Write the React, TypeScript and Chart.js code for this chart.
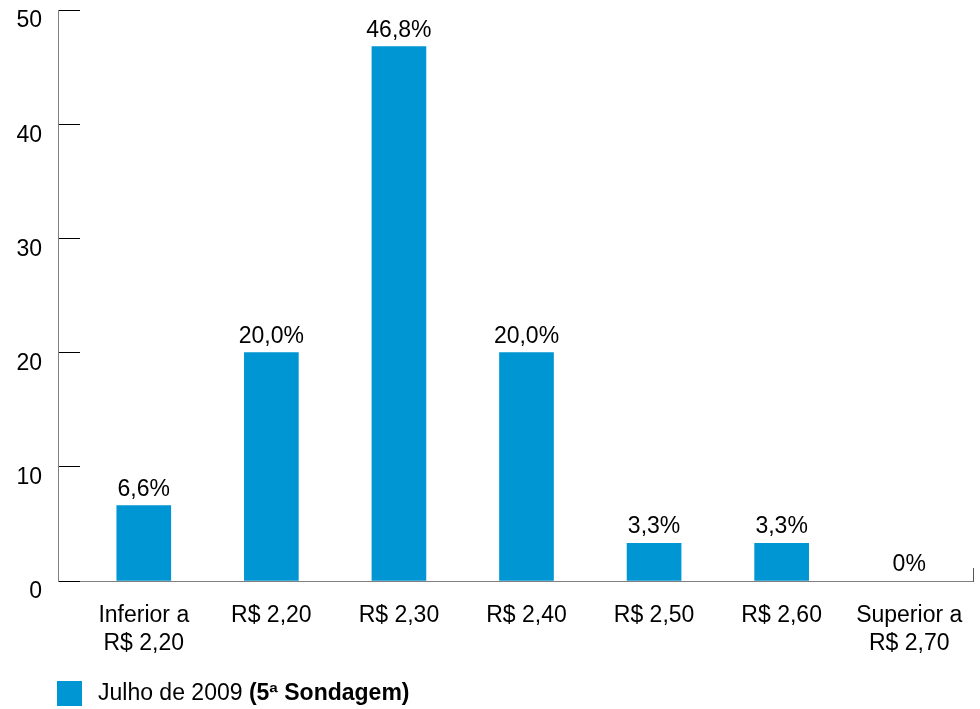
import React, { useEffect, useRef } from 'react';
import { Chart, registerables } from 'chart.js';

Chart.register(...registerables);

// ---- data ----
const categories: (string | string[])[] = [
  ['Inferior a', 'R$ 2,20'],
  'R$ 2,20',
  'R$ 2,30',
  'R$ 2,40',
  'R$ 2,50',
  'R$ 2,60',
  ['Superior a', 'R$ 2,70'],
];
const values: number[] = [6.6, 20.0, 46.8, 20.0, 3.3, 3.3, 0];
const yMin = 0;
const yMax = 50;
const yStep = 10;
const seriesName = 'Julho de 2009';
const seriesNote = '(5ª Sondagem)';

// ---- styles ----
const BAR_COLOR = '#0095d3';
const FONT_FAMILY = '"Liberation Sans", Arial, Helvetica, sans-serif';
const FONT_SIZE = 23;
const Y_TICK_LEN = 22;

const fmtPct = (v: number) => (v === 0 ? '0%' : v.toFixed(1).replace('.', ',') + '%');

const valueLabelPlugin = {
  id: 'valueLabels',
  afterDatasetsDraw(chart: any) {
    const { ctx } = chart;
    const meta = chart.getDatasetMeta(0);
    const data = chart.data.datasets[0].data as number[];
    ctx.save();
    ctx.font = `${FONT_SIZE}px ${FONT_FAMILY}`;
    ctx.fillStyle = '#000';
    ctx.textAlign = 'center';
    ctx.textBaseline = 'alphabetic';
    meta.data.forEach((bar: any, i: number) => {
      ctx.fillText(fmtPct(data[i]), bar.x, bar.y - 10);
    });
    ctx.restore();
  },
};

const axisPlugin = {
  id: 'axisLines',
  afterDraw(chart: any) {
    const { ctx, chartArea } = chart;
    const y = chart.scales.y;
    const x0 = Math.round(chartArea.left - Y_TICK_LEN) + 0.5;
    const top = Math.round(y.getPixelForValue(yMax));
    const bottom = Math.round(y.getPixelForValue(yMin));
    ctx.save();
    ctx.lineWidth = 1;
    ctx.strokeStyle = '#808080';
    ctx.beginPath();
    ctx.moveTo(x0, top);
    ctx.lineTo(x0, bottom + 1);
    ctx.stroke();
    // small end mark at right
    const xr = Math.round(chartArea.right) + 0.5;
    ctx.strokeStyle = '#555';
    ctx.beginPath();
    ctx.moveTo(xr, bottom - 13);
    ctx.lineTo(xr, bottom + 1);
    ctx.stroke();
    ctx.restore();
  },
};

const legendPlugin = {
  id: 'customLegend',
  afterDraw(chart: any) {
    const { ctx } = chart;
    const ds = chart.data.datasets[0];
    const boxX = 57;
    const boxY = 681;
    const box = 25;
    ctx.save();
    ctx.fillStyle = BAR_COLOR;
    ctx.fillRect(boxX, boxY, box, box);
    ctx.fillStyle = '#000';
    ctx.textAlign = 'left';
    ctx.textBaseline = 'middle';
    const ty = boxY + box / 2;
    ctx.font = `${FONT_SIZE}px ${FONT_FAMILY}`;
    const t1 = ds.label + ' ';
    ctx.fillText(t1, 98, ty);
    const w1 = ctx.measureText(t1).width;
    ctx.font = `bold ${FONT_SIZE}px ${FONT_FAMILY}`;
    ctx.fillText(seriesNote, 98 + w1, ty);
    ctx.restore();
  },
};

export default function App() {
  const canvasRef = useRef<HTMLCanvasElement | null>(null);

  useEffect(() => {
    if (!canvasRef.current) return;
    const chart = new Chart(canvasRef.current, {
      type: 'bar',
      data: {
        labels: categories,
        datasets: [
          {
            label: seriesName,
            data: values,
            backgroundColor: (c: any) => (c.raw === 0 ? 'rgba(0,0,0,0)' : BAR_COLOR),
            borderWidth: 0,
            barThickness: 54,
          },
        ],
      },
      options: {
        responsive: false,
        animation: false,
        devicePixelRatio: 1,
        layout: { padding: { left: 0, right: 7, top: 10, bottom: 0 } },
        plugins: {
          legend: { display: false },
          tooltip: { enabled: false },
          title: { display: false },
        },
        scales: {
          x: {
            type: 'category',
            offset: true,
            grid: { display: false },
            border: { display: true, color: '#808080', width: 1 },
            ticks: {
              color: '#000',
              font: { family: FONT_FAMILY, size: FONT_SIZE },
              padding: 13,
              maxRotation: 0,
              autoSkip: false,
            },
            afterFit: (scale: any) => {
              scale.height = 128;
              scale.paddingLeft = 0;
              scale.paddingRight = 0;
            },
          },
          y: {
            min: yMin,
            max: yMax,
            grid: {
              display: true,
              drawOnChartArea: false,
              drawTicks: true,
              tickLength: Y_TICK_LEN,
              color: '#000',
              lineWidth: 1,
            },
            border: { display: false },
            ticks: {
              stepSize: yStep,
              color: '#000',
              font: { family: FONT_FAMILY, size: FONT_SIZE },
              padding: 16,
              labelOffset: 11,
            },
            afterFit: (scale: any) => {
              scale.width = 80;
              scale.paddingTop = 0;
              scale.paddingBottom = 0;
            },
          },
        },
      },
      plugins: [valueLabelPlugin, axisPlugin, legendPlugin],
    });
    return () => chart.destroy();
  }, []);

  return (
    <canvas
      ref={canvasRef}
      width={980}
      height={709}
      style={{ position: 'absolute', left: 0, top: 0, display: 'block', width: 980, height: 709 }}
    />
  );
}
